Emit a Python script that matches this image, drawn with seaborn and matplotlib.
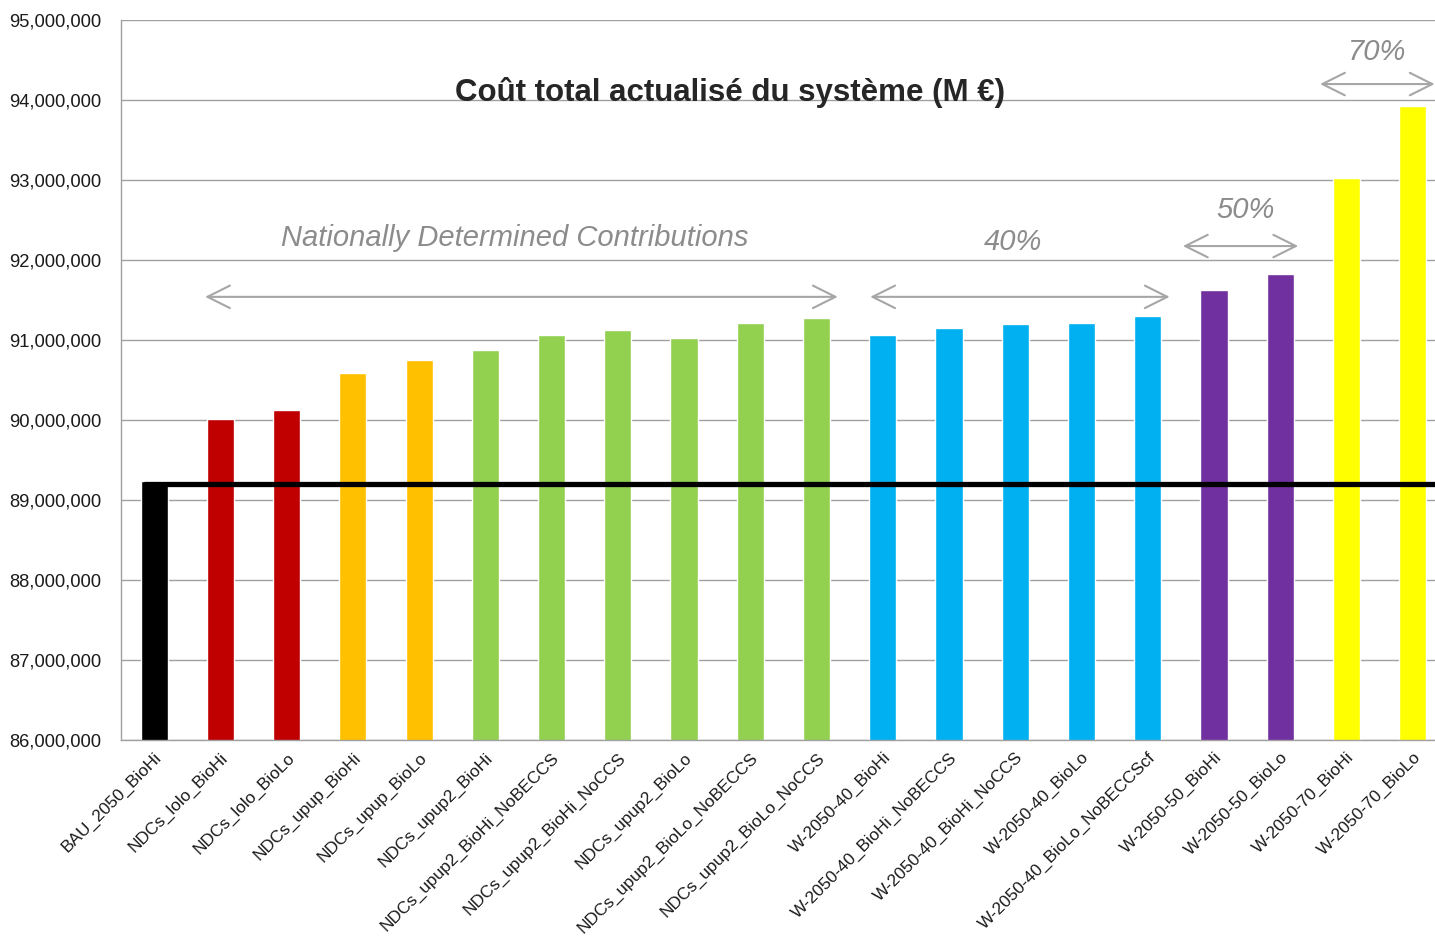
import pandas as pd
import matplotlib.pyplot as plt
import seaborn as sns
import numpy as np
from matplotlib.ticker import FuncFormatter, FixedLocator


# scenarios and total discounted system cost (M EUR)
scenarios = ['BAU_2050_BioHi', 'NDCs_lolo_BioHi', 'NDCs_lolo_BioLo',
             'NDCs_upup_BioHi', 'NDCs_upup_BioLo', 'NDCs_upup2_BioHi',
             'NDCs_upup2_BioHi_NoBECCS', 'NDCs_upup2_BioHi_NoCCS',
             'NDCs_upup2_BioLo', 'NDCs_upup2_BioLo_NoBECCS',
             'NDCs_upup2_BioLo_NoCCS', 'W-2050-40_BioHi',
             'W-2050-40_BioHi_NoBECCS', 'W-2050-40_BioHi_NoCCS',
             'W-2050-40_BioLo', 'W-2050-40_BioLo_NoBECCScf',
             'W-2050-50_BioHi', 'W-2050-50_BioLo',
             'W-2050-70_BioHi', 'W-2050-70_BioLo']
cost = [89240000, 90010000, 90125000, 90590000, 90750000, 90870000,
        91060000, 91120000, 91030000, 91210000, 91270000, 91060000,
        91150000, 91200000, 91210000, 91300000, 91620000, 91830000,
        93020000, 93925000]
colors = ['#000000', '#C00000', '#C00000', '#FFC000', '#FFC000',
          '#92D050', '#92D050', '#92D050', '#92D050', '#92D050', '#92D050',
          '#00B0F0', '#00B0F0', '#00B0F0', '#00B0F0', '#00B0F0',
          '#7030A0', '#7030A0', '#FFFF00', '#FFFF00']
bau_level = 89200000

df = pd.DataFrame({'scenario': scenarios, 'cost': cost})

sns.set_style('white')
plt.rcParams['font.family'] = ['Liberation Sans', 'DejaVu Sans']

fig = plt.figure(figsize=(14.35, 9.42), dpi=100)
ax = fig.add_axes([0.0843, 0.2144, 0.9233, 0.7643])

sns.barplot(data=df, x='scenario', y='cost', hue='scenario', palette=colors,
            legend=False, width=0.41, saturation=1, ax=ax)

# BAU reference line
ax.hlines(bau_level, -0.15, 19.6, color='black', lw=3.8, zorder=5)

ax.set_ylim(86000000, 95000000)
ax.set_xlim(-0.5, 19.5)
ax.set_yticks(np.arange(86000000, 95000001, 1000000))
ax.yaxis.set_major_formatter(FuncFormatter(lambda v, p: '{:,.0f}'.format(v)))
ax.grid(axis='y', color='#a0a0a0', lw=1)
ax.set_axisbelow(True)
ax.set_xlabel('')
ax.set_ylabel('')

sns.despine(ax=ax, top=True, right=True)
for s in ['left', 'bottom']:
    ax.spines[s].set_color('#a0a0a0')
    ax.spines[s].set_linewidth(1)

# category boundaries as tick marks
ax.xaxis.set_minor_locator(FixedLocator(np.arange(-0.5, 20, 1)))
ax.tick_params(axis='x', which='minor', length=6, color='#a0a0a0', direction='out')
ax.tick_params(axis='x', which='major', length=0, pad=7)
ax.tick_params(axis='y', length=5, color='#a0a0a0', direction='out', pad=9,
               labelsize=13.2, labelcolor='#1a1a1a')
ax.set_xticks(range(len(scenarios)))
ax.set_xticklabels(scenarios, rotation=45, ha='right', rotation_mode='anchor',
                   fontsize=12.4, color='#1a1a1a')

fig.text(0.509, 1 - 93 / 942, 'Coût total actualisé du système (M €)',
         fontsize=22.5, fontweight='bold', ha='center', va='center')

# group annotations
grey = '#8c8c8c'
arrow = dict(arrowstyle='<->,head_length=0.9,head_width=0.45', color='#a6a6a6',
             lw=1.5, mutation_scale=18, shrinkA=0, shrinkB=0)
groups = [('Nationally Determined Contributions', 5.45, 92275000, 0.77, 10.32, 91540000),
          ('40%', 12.96, 92225000, 10.81, 15.33, 91540000),
          ('50%', 16.47, 92625000, 15.53, 17.27, 92175000),
          ('70%', 18.47, 94600000, 17.6, 19.33, 94200000)]
for label, tx, ty, x0, x1, ay in groups:
    ax.text(tx, ty, label, ha='center', va='center', fontsize=21,
            style='italic', color=grey)
    ax.annotate('', xy=(x0, ay), xytext=(x1, ay), arrowprops=arrow,
                annotation_clip=False)

fig.savefig('out.png', dpi=100)
